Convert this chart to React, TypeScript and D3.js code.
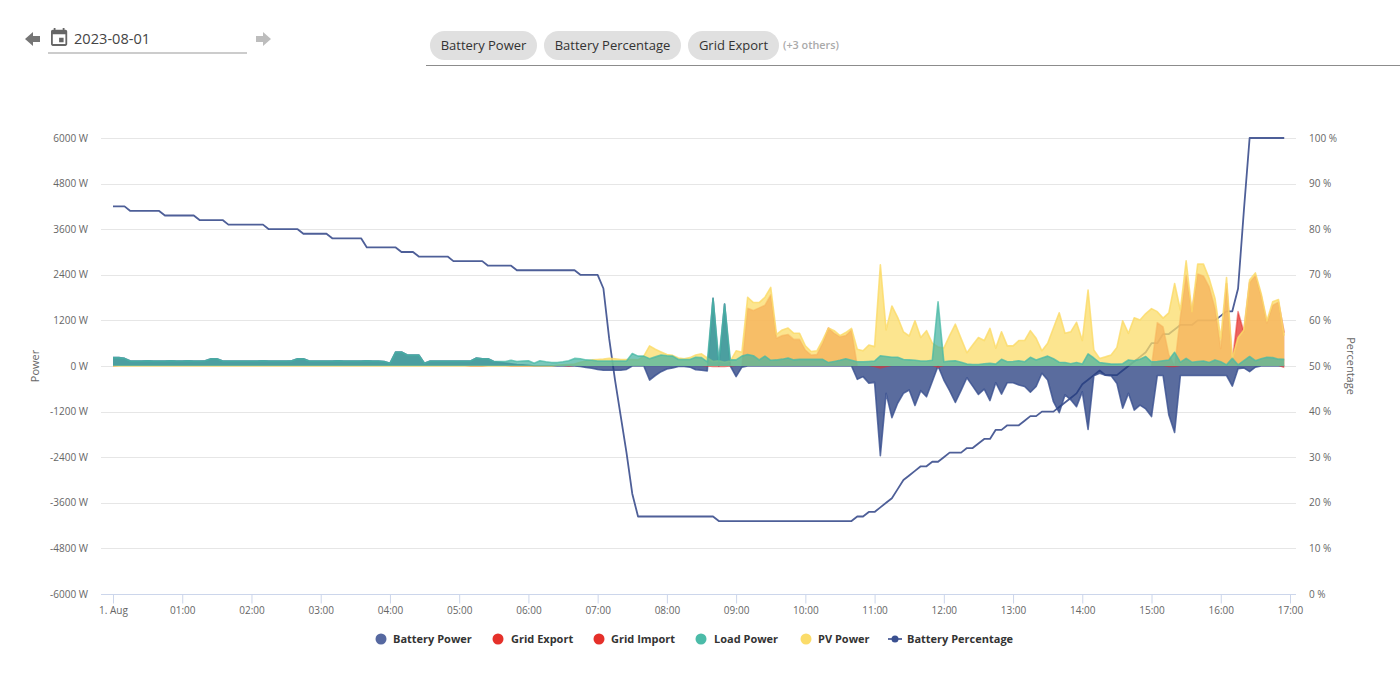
import React, { useEffect, useRef } from "react";
import * as d3 from "d3";

// one row per hour, one value per 5 minutes, watts
const batteryPower = [
  220, 220, 200, 130, 130, 130, 135, 130, 130, 130, 135, 130,
  130, 135, 130, 130, 140, 190, 190, 130, 130, 130, 130, 130,
  130, 130, 135, 130, 130, 130, 130, 135, 190, 190, 130, 130,
  130, 130, 130, 135, 130, 130, 130, 130, 135, 130, 130, 120,
  70, 370, 370, 290, 290, 290, 70, 130, 130, 130, 130, 130,
  130, 130, 130, 210, 190, 190, 120, 100, 80, 60, 40, 30,
  20, 0, 0, 0, 0, 0, 0, 0, 0, -10, -40, -60,
  -90, -110, -110, -110, -110, -90, 0, 0, 0, -370, -250, -150,
  -80, -50, -10, -10, -30, -100, -110, -130, 1780, 0, 1630, 0,
  -280, -30, 0, 0, 0, 0, 0, 0, 0, 0, 0, 0,
  0, 0, 0, 0, 0, 0, 0, 0, 0, -350, -280, -450,
  -430, -2360, -720, -1360, -980, -720, -630, -1040, -650, -810, -410, 0,
  -370, -650, -960, -640, -310, -530, -750, -610, -910, -440, -740, -440,
  -440, -500, -540, -690, -540, -190, -370, -940, -1230, -760, -890, -1070,
  -680, -1670, -260, -190, -240, -260, -460, -1110, -720, -1160, -1030, -1130,
  -1330, -250, -250, -1290, -1750, -250, -250, -250, -250, -250, -250, -250,
  -250, -250, -530, -70, -50, -150, -30, 0, 0, 0, 0, 0,
];

const gridExport = [
  0, 0, 0, 0, 0, 0, 0, 0, 0, 0, 0, 0,
  0, 0, 0, 0, 0, 0, 0, 0, 0, 0, 0, 0,
  0, 0, 0, 0, 0, 0, 0, 0, 0, 0, 0, 0,
  0, 0, 0, 0, 0, 0, 0, 0, 0, 0, 0, 0,
  0, 0, 0, 0, 0, 0, 0, 0, 0, 0, 0, 0,
  0, 0, 0, 0, 0, 0, 0, 0, 0, 0, 0, 0,
  0, 0, 0, 0, 0, 0, 0, 0, 0, 0, 0, 0,
  0, 0, 0, 0, 0, 0, 0, 0, 0, 0, 0, 0,
  0, 0, 0, 0, 0, 0, 0, 0, 0, 0, 0, 0,
  0, 0, 1520, 1460, 1530, 1600, 1870, 730, 800, 830, 700, 700,
  420, 290, 300, 600, 1000, 860, 770, 800, 950, 0, 0, 0,
  0, 0, 0, 0, 0, 0, 0, 0, 0, 0, 0, 0,
  0, 0, 0, 0, 0, 0, 0, 0, 0, 0, 0, 0,
  0, 0, 0, 0, 0, 0, 0, 0, 0, 0, 0, 0,
  0, 0, 0, 0, 0, 0, 0, 0, 0, 0, 0, 0,
  0, 1140, 1030, 300, 0, 1300, 2390, 1430, 2420, 2370, 2080, 1520,
  460, 2170, 100, 1430, 900, 2200, 2380, 1850, 1130, 1600, 1680, 880,
];

const gridImport = [
  -20, 0, 0, 0, 0, 0, 0, 0, 0, 0, 0, 0,
  0, 0, 0, 0, 0, 0, 0, 0, 0, 0, 0, 0,
  0, 0, 0, 0, 0, 0, 0, 0, 0, 0, 0, 0,
  0, 0, 0, 0, 0, 0, 0, 0, 0, 0, 0, 0,
  0, 0, 0, 0, 0, 0, 0, 0, 0, 0, 0, 0,
  0, 0, -20, -20, -20, 0, 0, 0, 0, -20, -20, -20,
  -20, 0, 0, 0, 0, 0, 0, -20, 0, 0, 0, 0,
  0, 0, 0, 0, 0, 0, 0, 0, 0, 0, 0, 0,
  0, 0, 0, 0, 0, 0, 0, -20, -30, -30, -30, -20,
  0, 0, 0, 0, 0, 0, 0, 0, 0, 0, 0, 0,
  0, 0, 0, 0, 0, 0, 0, 0, 0, 0, 0, 0,
  -30, -70, -30, 0, 0, 0, 0, 0, 0, 0, 0, -50,
  0, 0, 0, 0, 0, 0, 0, 0, 0, 0, 0, 0,
  0, 0, 0, 0, 0, 0, 0, 0, 0, 0, 0, 0,
  0, 0, 0, 0, 0, 0, 0, 0, 0, 0, 0, 0,
  0, 0, 0, -30, -30, 0, 0, 0, 0, 0, 0, 0,
  0, 0, 0, 0, 0, 0, 0, 0, 0, 0, 0, -60,
];

const loadPower = [
  220, 220, 200, 130, 130, 130, 135, 130, 130, 130, 135, 130,
  130, 135, 130, 130, 140, 190, 190, 130, 130, 130, 130, 130,
  130, 130, 135, 130, 130, 130, 130, 135, 190, 190, 130, 130,
  130, 130, 130, 135, 130, 130, 130, 130, 135, 130, 130, 120,
  70, 370, 370, 290, 290, 290, 70, 130, 130, 130, 130, 130,
  130, 130, 130, 210, 190, 190, 120, 120, 120, 150, 120, 130,
  140, 70, 140, 110, 90, 90, 110, 140, 200, 190, 160, 150,
  130, 130, 130, 130, 130, 130, 330, 260, 260, 190, 240, 290,
  270, 260, 170, 170, 170, 230, 220, 110, 1780, 140, 1630, 160,
  160, 260, 300, 270, 160, 260, 150, 160, 180, 210, 160, 175,
  175, 175, 175, 175, 90, 120, 150, 190, 150, 110, 110, 120,
  130, 270, 250, 230, 230, 170, 160, 150, 130, 130, 150, 1690,
  110, 130, 140, 100, 50, 40, 40, 60, 70, 50, 175, 110,
  120, 140, 110, 230, 160, 210, 260, 190, 100, 90, 60, 90,
  50, 320, 210, 90, 70, 50, 50, 60, 160, 140, 180, 250,
  110, 120, 140, 160, 360, 100, 200, 100, 120, 130, 90, 160,
  110, 30, 200, 30, 140, 250, 140, 190, 230, 220, 180, 175,
];

const pvPower = [
  0, 0, 0, 0, 0, 0, 0, 0, 0, 0, 0, 0,
  0, 0, 0, 0, 0, 0, 0, 0, 0, 0, 0, 0,
  0, 0, 0, 0, 0, 0, 0, 0, 0, 0, 0, 0,
  0, 0, 0, 0, 0, 0, 0, 0, 0, 0, 0, 0,
  0, 0, 0, 0, 0, 0, 0, 0, 0, 0, 0, 0,
  0, 0, 0, 0, 0, 0, 0, 0, 0, 0, 0, 0,
  0, 0, 0, 0, 0, 20, 30, 40, 50, 100, 130, 160,
  170, 180, 200, 190, 170, 170, 170, 160, 260, 530, 440, 370,
  300, 280, 210, 190, 220, 290, 320, 210, 120, 140, 100, 130,
  400, 360, 1810, 1670, 1670, 1810, 2070, 830, 950, 1000, 860, 860,
  530, 380, 400, 680, 1000, 930, 800, 880, 990, 440, 400, 550,
  510, 2660, 950, 1580, 1280, 900, 790, 1190, 750, 930, 600, 500,
  470, 800, 1100, 720, 350, 550, 750, 670, 990, 470, 900, 530,
  530, 670, 670, 930, 730, 400, 600, 1000, 1400, 860, 900, 1150,
  670, 2000, 420, 200, 240, 290, 490, 1190, 860, 1270, 1210, 1380,
  1510, 1430, 1260, 1400, 2170, 1470, 2770, 1430, 2680, 2680, 2300, 1780,
  730, 2330, 200, 750, 950, 2260, 2450, 1910, 1190, 1690, 1750, 800,
];

const batteryPercentage = [
  85, 85, 85, 84, 84, 84, 84, 84, 84, 83, 83, 83,
  83, 83, 83, 82, 82, 82, 82, 82, 81, 81, 81, 81,
  81, 81, 81, 80, 80, 80, 80, 80, 80, 79, 79, 79,
  79, 79, 78, 78, 78, 78, 78, 78, 76, 76, 76, 76,
  76, 76, 75, 75, 75, 74, 74, 74, 74, 74, 74, 73,
  73, 73, 73, 73, 73, 72, 72, 72, 72, 72, 71, 71,
  71, 71, 71, 71, 71, 71, 71, 71, 71, 70, 70, 70,
  70, 67, 56, 47, 39, 31, 22, 17, 17, 17, 17, 17,
  17, 17, 17, 17, 17, 17, 17, 17, 17, 16, 16, 16,
  16, 16, 16, 16, 16, 16, 16, 16, 16, 16, 16, 16,
  16, 16, 16, 16, 16, 16, 16, 16, 16, 17, 17, 18,
  18, 19, 20, 21, 23, 25, 26, 27, 28, 28, 29, 29,
  30, 31, 31, 31, 32, 32, 33, 34, 34, 36, 36, 37,
  37, 37, 38, 39, 39, 40, 40, 40, 41, 42, 43, 44,
  46, 47, 48, 49, 48, 48, 48, 49, 50, 51, 52, 53,
  55, 55, 57, 57, 58, 59, 59, 59, 60, 60, 60, 60,
  61, 62, 62, 67, 84, 100, 100, 100, 100, 100, 100, 100,
];

const powerTicks = [6000, 4800, 3600, 2400, 1200, 0, -1200, -2400, -3600, -4800, -6000];
const percentTicks = [100, 90, 80, 70, 60, 50, 40, 30, 20, 10, 0];
const hourLabels = [
  "1. Aug", "01:00", "02:00", "03:00", "04:00", "05:00", "06:00", "07:00", "08:00",
  "09:00", "10:00", "11:00", "12:00", "13:00", "14:00", "15:00", "16:00", "17:00",
];

// draw order, load goes over pv
const areaSeries = [
  { values: batteryPower, color: "#233b7e", line: "#3a5090", fill: 0.75, stroke: 0.8 },
  { values: gridExport, color: "#e5302a", line: "#e5302a", fill: 0.75, stroke: 0.5 },
  { values: gridImport, color: "#e5302a", line: "#e5302a", fill: 0.6, stroke: 0 },
  { values: pvPower, color: "#fbdc6a", line: "#fbdb68", fill: 0.75, stroke: 0.8 },
  { values: loadPower, color: "#45b3a1", line: "#48b9a6", fill: 0.72, stroke: 0.75 },
];

const legendNames = ["Battery Power", "Grid Export", "Grid Import", "Load Power", "PV Power"];
const legendDots = ["#5668a0", "#e5302a", "#e5302a", "#4bbba8", "#fbdc6a"];
const legendDotX = [381, 498, 599, 701, 806];
const legendTextX = [393, 511, 611, 714, 818];
const font = "'Open Sans', sans-serif";

const App: React.FC = () => {
  const svgRef = useRef<SVGSVGElement | null>(null);

  useEffect(() => {
    const svg = d3.select(svgRef.current);
    svg.selectAll("*").remove();

    const scaleX = d3.scaleLinear().domain([0, 17]).range([113, 1290]);
    const scaleY = d3.scaleLinear().domain([-6000, 6000]).range([594, 138]);
    const scalePct = d3.scaleLinear().domain([0, 100]).range([594, 138]);
    const hourOf = (i: number) => (i * 5) / 60;

    // toolbar
    const bar = svg.append("g");
    bar.append("path").attr("d", "M25 39l8-7v4h7v6h-7v4z").attr("fill", "#757575");
    bar.append("path").attr("d", "M271 39l-8-7v4h-7v6h7v4z").attr("fill", "#bdbdbd");
    bar
      .append("path")
      .attr("transform", "translate(48.3,27) scale(0.9)")
      .attr(
        "d",
        "M19 3h-1V1h-2v2H8V1H6v2H5c-1.11 0-1.99.9-1.99 2L3 19c0 1.1.89 2 2 2h14c1.1 0 2-.9 2-2V5c0-1.1-.9-2-2-2zm0 16H5V8h14v11zM12 12h5v5h-5z"
      )
      .attr("fill", "#666");
    bar
      .append("text")
      .attr("x", 74)
      .attr("y", 44)
      .attr("font-size", 14.6)
      .attr("fill", "#444")
      .text("2023-08-01");
    bar.append("line").attr("x1", 48).attr("x2", 247).attr("y1", 53).attr("y2", 53).attr("stroke", "#999");

    const chips = [
      { text: "Battery Power", x: 430, w: 107 },
      { text: "Battery Percentage", x: 544, w: 137 },
      { text: "Grid Export", x: 688, w: 91 },
    ];
    chips.forEach(c => {
      bar.append("rect").attr("x", c.x).attr("y", 31).attr("width", c.w).attr("height", 29).attr("rx", 14.5).attr("fill", "#e0e0e0");
      bar
        .append("text")
        .attr("x", c.x + c.w / 2)
        .attr("y", 50)
        .attr("text-anchor", "middle")
        .attr("font-size", 13)
        .attr("fill", "#333")
        .text(c.text);
    });
    bar.append("text").attr("x", 783).attr("y", 49).attr("font-size", 10.8).attr("font-weight", 600).attr("fill", "#aaa").text("(+3 others)");
    bar.append("line").attr("x1", 426).attr("x2", 1400).attr("y1", 65.5).attr("y2", 65.5).attr("stroke", "#8c8c8c");

    // grid lines and y labels
    const grid = svg.append("g");
    powerTicks.forEach(t => {
      if (t === -6000) return;
      grid
        .append("line")
        .attr("x1", 101)
        .attr("x2", 1296)
        .attr("y1", Math.round(scaleY(t)) + 0.5)
        .attr("y2", Math.round(scaleY(t)) + 0.5)
        .attr("stroke", "#e6e6e6");
    });
    grid
      .selectAll(".left")
      .data(powerTicks)
      .enter()
      .append("text")
      .attr("x", 88)
      .attr("y", d => scaleY(d) + 3.5)
      .attr("text-anchor", "end")
      .attr("font-size", 10)
      .attr("fill", "#666")
      .text(d => `${d} W`);
    grid
      .selectAll(".right")
      .data(percentTicks)
      .enter()
      .append("text")
      .attr("x", 1309)
      .attr("y", d => scalePct(d) + 3.5)
      .attr("font-size", 10)
      .attr("fill", "#666")
      .text(d => `${d} %`);
    grid
      .append("text")
      .attr("transform", "translate(39,366) rotate(-90)")
      .attr("text-anchor", "middle")
      .attr("font-size", 11)
      .attr("fill", "#666")
      .text("Power");
    grid
      .append("text")
      .attr("transform", "translate(1347,366) rotate(90)")
      .attr("text-anchor", "middle")
      .attr("font-size", 11)
      .attr("fill", "#666")
      .text("Percentage");

    // x axis
    const axisX = d3
      .axisBottom(scaleX)
      .tickValues(d3.range(0, 18))
      .tickSize(9)
      .tickPadding(3)
      .tickFormat((_, i) => hourLabels[i]);
    const xAxis = svg.append("g").attr("transform", "translate(0,594.5)").call(axisX as any);
    xAxis.select(".domain").attr("d", "M101,0H1296").attr("stroke", "#ccd6eb");
    xAxis.selectAll(".tick line").attr("stroke", "#ccd6eb");
    xAxis.selectAll("text").attr("font-size", 10).attr("font-family", font).attr("fill", "#666");

    // the percentage line sits under the areas
    const pctLine = d3
      .line<number>()
      .x((_, i) => scaleX(hourOf(i)))
      .y(d => scalePct(d));
    svg
      .append("path")
      .datum(batteryPercentage)
      .attr("fill", "none")
      .attr("stroke", "#4e5f98")
      .attr("stroke-width", 1.8)
      .attr("stroke-linejoin", "round")
      .attr("d", pctLine);

    areaSeries.forEach(s => {
      const isGrid = s.values === gridExport || s.values === gridImport;
      const area = d3
        .area<number>()
        .x((_, i) => scaleX(hourOf(i)))
        .y0(scaleY(0))
        .y1(d => scaleY(d));
      // no red line along the zero stretches of the grid series
      const line = d3
        .line<number>()
        .defined((d, i, arr) => !isGrid || d !== 0 || arr[i - 1] > 0 || arr[i + 1] > 0)
        .x((_, i) => scaleX(hourOf(i)))
        .y(d => scaleY(d));
      svg.append("path").datum(s.values).attr("fill", s.color).attr("fill-opacity", s.fill).attr("d", area);
      svg
        .append("path")
        .datum(s.values)
        .attr("fill", "none")
        .attr("stroke", s.line)
        .attr("stroke-opacity", s.stroke)
        .attr("stroke-width", 1.6)
        .attr("stroke-linejoin", "round")
        .attr("d", line);
    });

    // legend
    const legend = svg.append("g").attr("font-size", 11).attr("font-weight", 700).attr("fill", "#333");
    legendNames.forEach((name, i) => {
      legend.append("circle").attr("cx", legendDotX[i]).attr("cy", 639).attr("r", 5.5).attr("fill", legendDots[i]);
      legend.append("text").attr("x", legendTextX[i]).attr("y", 643).text(name);
    });
    legend.append("line").attr("x1", 888).attr("x2", 902).attr("y1", 639).attr("y2", 639).attr("stroke", "#4e5f98").attr("stroke-width", 1.8);
    legend.append("circle").attr("cx", 895).attr("cy", 639).attr("r", 3.5).attr("fill", "#3a5090");
    legend.append("text").attr("x", 907).attr("y", 643).text("Battery Percentage");
  }, []);

  return (
    <svg
      ref={svgRef}
      width={1400}
      height={688}
      style={{ position: "absolute", left: 0, top: 0, fontFamily: font }}
    ></svg>
  );
};

export default App;
